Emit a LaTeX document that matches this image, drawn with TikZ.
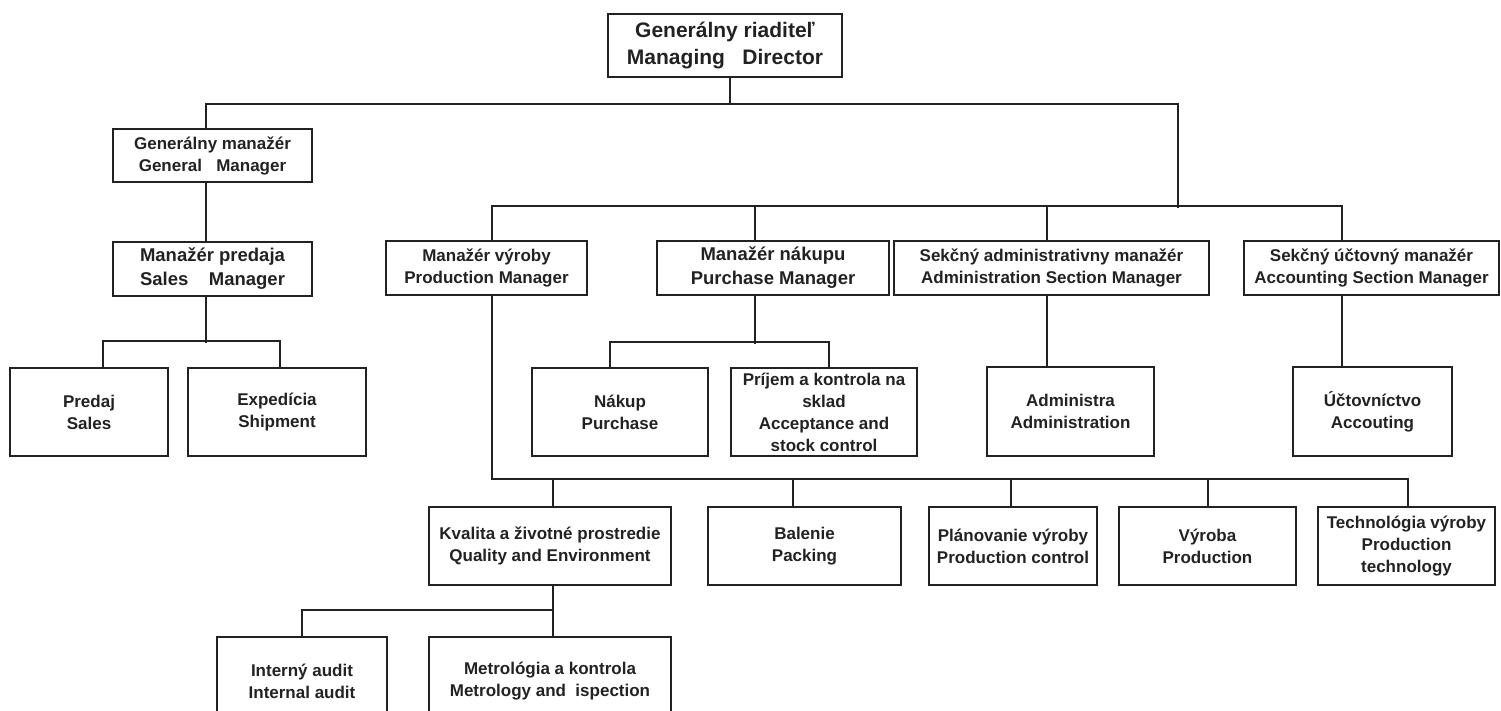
\documentclass[tikz,border=0pt]{standalone}
\usepackage{fontspec}
\setmainfont{Liberation Sans}
\usetikzlibrary{calc}
\definecolor{ink}{HTML}{222222}
\tikzset{
  orgbox/.style={draw=ink, line width=2.5pt, inner sep=0pt, align=center, text=ink,
    font=\bfseries\fontsize{17}{22}\selectfont},
  bigtext/.style={font=\bfseries\fontsize{18.5}{24}\selectfont},
  toptext/.style={font=\bfseries\fontsize{21}{27}\selectfont},
  link/.style={draw=ink, line width=2.1pt}
}
\newcommand{\bx}[5]{\node[orgbox, minimum width=#3pt, minimum height=#4pt, #5] (#1) at (#2)}
\begin{document}
\begin{tikzpicture}[x=1pt,y=-1pt]
\useasboundingbox (0,0) rectangle (1501,711);
\clip (0,0) rectangle (1501,711);
% level 0
\bx{md}{725,45.5}{234}{63}{toptext} {Generálny riaditeľ\\Managing\ \ \ Director};
% left branch
\bx{gm}{212.5,155.5}{199}{53}{} {Generálny manažér\\General\ \ \ Manager};
\bx{sm}{212.5,269}{199}{54}{bigtext} {Manažér predaja\\Sales\ \ \ \ Manager};
\bx{pred}{89,412}{158}{88}{} {Predaj\\Sales};
\bx{exp}{277,412}{178}{88}{} {Expedícia\\Shipment};
% level 2
\bx{pm}{486.5,268}{201}{54}{} {Manažér výroby\\Production Manager};
\bx{pur}{773,268}{232}{54}{bigtext} {Manažér nákupu\\Purchase Manager};
\bx{adm}{1051.5,268}{315}{54}{} {Sekčný administrativny manažér\\Administration Section Manager};
\bx{acc}{1371.5,268}{255}{54}{} {Sekčný účtovný manažér\\Accounting Section Manager};
% level 3
\bx{nak}{620,412}{176}{88}{} {Nákup\\Purchase};
\bx{prij}{824,412}{186}{88}{} {Príjem a kontrola na\\sklad\\Acceptance and\\stock control};
\bx{admin}{1070.5,411.5}{167}{89}{} {Administra\\Administration};
\bx{uct}{1372.5,411.5}{159}{89}{} {Účtovníctvo\\Accouting};
% production row
\bx{kval}{550,546}{242}{78}{} {Kvalita a životné prostredie\\Quality and Environment};
\bx{bal}{804.5,546}{193}{78}{} {Balenie\\Packing};
\bx{plan}{1013,546}{168}{78}{} {Plánovanie výroby\\Production control};
\bx{vyr}{1207.5,546}{177}{78}{} {Výroba\\Production};
\bx{tech}{1406.5,546}{177}{78}{} {Technológia výroby\\Production\\technology};
% quality row
\bx{int}{302,681}{170}{88}{} {Interný audit\\Internal audit};
\bx{met}{550,681}{242}{88}{} {Metrológia a kontrola\\Metrology and\ \ ispection};

% connectors
\coordinate (bus1) at ($(md.south)+(5,26)$);
\coordinate (bus2) at ($(bus1)+(448,104)$);
\draw[link] ($(md.south)+(5,0)$) -- (bus1);
\draw[link] ($(gm.north)+(-6.5,0)$) |- (bus1) -| (bus2);
\draw[link] ($(gm.south)+(-6.5,0)$) -- ($(sm.north)+(-6.5,0)$);
\draw[link] ($(sm.south)+(-6.5,0)$) -- ++(0,46);
\draw[link] ($(pred.north)+(14,0)$) |- ($(exp.north)+(3,-26)$) -- ($(exp.north)+(3,0)$);
\draw[link] ($(pm.north)+(5.5,0)$) |- ($(acc.north)+(-29.5,-34)$) -- ($(acc.north)+(-29.5,0)$);
\draw[link] ($(pur.north)+(-18,0)$) -- ++(0,-34);
\draw[link] ($(adm.north)+(-4.5,0)$) -- ++(0,-34);
\draw[link] ($(pur.south)+(-18,0)$) -- ++(0,48);
\draw[link] ($(nak.north)+(-10,0)$) |- ($(prij.north)+(5,-25)$) -- ($(prij.north)+(5,0)$);
\draw[link] ($(adm.south)+(-4.5,0)$) -- ($(admin.north)+(-23.5,0)$);
\draw[link] ($(acc.south)+(-29.5,0)$) -- ($(uct.north)+(-30.5,0)$);
\draw[link] ($(pm.south)+(5.5,0)$) |- ($(tech.north)+(1.5,-27)$) -- ($(tech.north)+(1.5,0)$);
\draw[link] ($(kval.north)+(3,0)$) -- ++(0,-27);
\draw[link] ($(bal.north)+(-11.5,0)$) -- ++(0,-27);
\draw[link] ($(plan.north)+(-2,0)$) -- ++(0,-27);
\draw[link] ($(vyr.north)+(0.5,0)$) -- ++(0,-27);
\draw[link] ($(kval.south)+(3,0)$) -- ($(met.north)+(3,0)$);
\draw[link] (int.north) |- ($(met.north)+(3,-26)$);
\end{tikzpicture}
\end{document}
